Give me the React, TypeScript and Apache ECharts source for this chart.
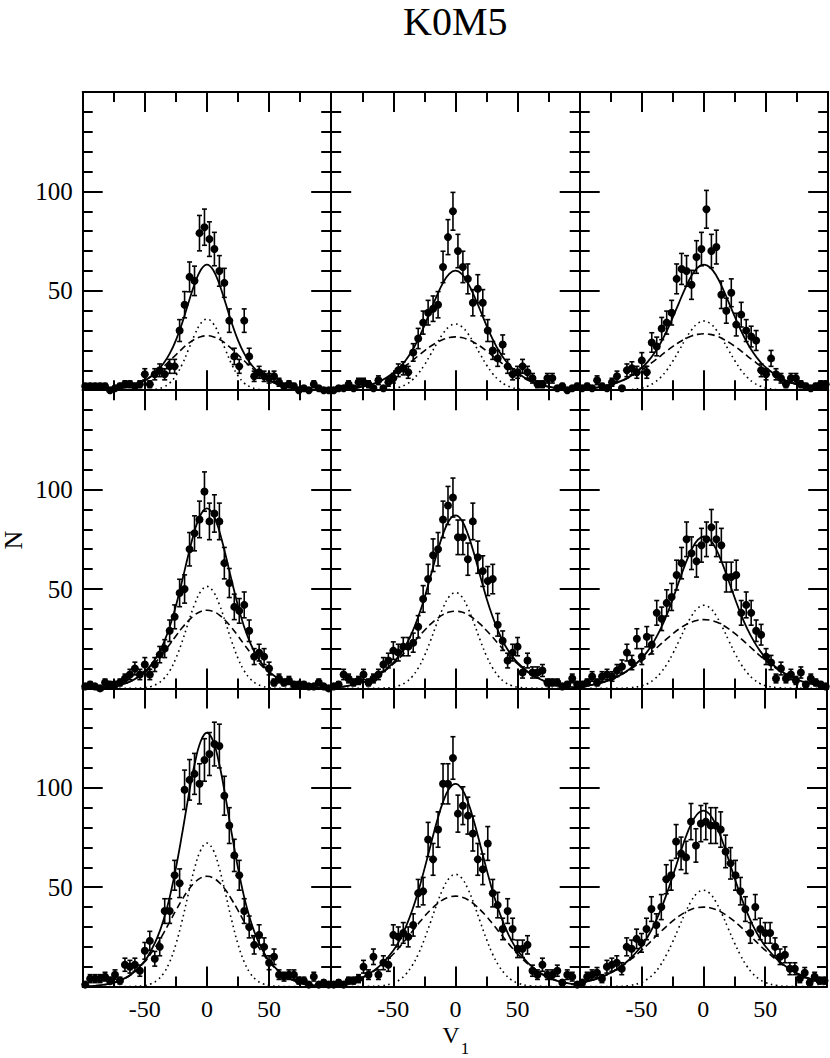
import React, { useEffect, useRef } from "react";
import * as echarts from "echarts";

// ---------- text ----------
const TITLE = "K0M5";
const X_NAME = "V";
const X_NAME_SUB = "1";
const Y_NAME = "N";
const X_TICK_LABELS = [-50, 0, 50];
const Y_TICK_LABELS = [50, 100];

// ---------- bins (x of the histogram points) ----------
const BIN_CENTERS = [
  -98, -94, -90, -86, -82, -78, -74, -70, -66, -62, -58, -54, -50, -46, -42, -38, -34, -30, -26, -22,
  -18, -14, -10, -6, -2, 2, 6, 10, 14, 18, 22, 26, 30, 34, 38, 42, 46, 50, 54, 58,
  62, 66, 70, 74, 78, 82, 86, 90, 94, 98,
];

// ---------- counts per panel (row, col) ----------
const COUNTS_11 = [2,2,2,2,2,0,1,2,3,3,2,3,8,3,8,10,8,12,12,30,43,57,55,79,82,76,71,60,54,35,17,12,35,17,7,9,7,6,7,4,2,3,2,0,1,0,3,1,0,0];
const ERRORS_11 = [1.4,1.4,1.4,1.4,1.4,0,1,1.4,1.7,1.7,1.4,1.7,2.8,1.7,2.8,3.2,2.8,3.5,3.5,5.5,6.6,7.5,7.4,8.9,9.1,8.7,8.4,7.7,7.3,5.9,4.1,3.5,5.9,4.1,2.6,3,2.6,2.4,2.6,2,1.4,1.7,1.4,0,1,0,1.7,1,0,0];
const COUNTS_12 = [0,1,1,3,1,4,4,3,1,5,1,4,6,10,11,9,19,26,34,39,41,43,62,77,90,70,62,56,44,51,44,30,20,16,23,12,8,9,12,9,6,3,3,6,6,1,2,0,1,2];
const ERRORS_12 = [0,1,1,1.7,1,2,2,1.7,1,2.2,1,2,2.4,3.2,3.3,3,4.4,5.1,5.8,6.2,6.4,6.6,7.9,8.8,9.5,8.4,7.9,7.5,6.6,7.1,6.6,5.5,4.5,4,4.8,3.5,2.8,3,3.5,3,2.4,1.7,1.7,2.4,2.4,1,1.4,0,1,1.4];
const COUNTS_13 = [1,2,1,5,2,1,4,7,1,10,11,9,15,9,24,22,31,34,39,56,61,60,53,67,71,91,70,72,48,40,49,33,38,30,27,25,10,8,16,8,6,3,6,6,3,2,1,2,3,3];
const ERRORS_13 = [1,1.4,1,2.2,1.4,1,2,2.6,1,3.2,3.3,3,3.9,3,4.9,4.7,5.6,5.8,6.2,7.5,7.8,7.7,7.3,8.2,8.4,9.5,8.4,8.5,6.9,6.3,7,5.7,6.2,5.5,5.2,5,3.2,2.8,4,2.8,2.4,1.7,2.4,2.4,1.7,1.4,1,1.4,1.7,1.7];
const COUNTS_21 = [1,2,1,0,3,2,2,3,5,7,10,7,12,7,12,17,20,29,36,48,50,70,78,85,99,84,88,84,63,53,41,39,42,29,16,18,16,10,3,5,3,4,2,2,2,1,1,3,1,0];
const ERRORS_21 = [1,1.4,1,0,1.7,1.4,1.4,1.7,2.2,2.6,3.2,2.6,3.5,2.6,3.5,4.1,4.5,5.4,6,6.9,7.1,8.4,8.8,9.2,9.9,9.2,9.4,9.2,7.9,7.3,6.4,6.2,6.5,5.4,4,4.2,4,3.2,1.7,2.2,1.7,2,1.4,1.4,1.4,1,1,1.7,1,0];
const COUNTS_22 = [1,2,7,5,3,4,7,3,5,7,12,14,19,18,21,21,23,31,45,55,67,70,85,92,96,76,76,65,84,66,59,54,55,32,24,14,18,21,8,14,8,8,9,3,3,3,1,2,5,2];
const ERRORS_22 = [1,1.4,2.6,2.2,1.7,2,2.6,1.7,2.2,2.6,3.5,3.7,4.4,4.2,4.6,4.6,4.8,5.6,6.7,7.4,8.2,8.4,9.2,9.6,9.8,8.7,8.7,8.1,9.2,8.1,7.7,7.3,7.4,5.7,4.9,3.7,4.2,4.6,2.8,3.7,2.8,2.8,3,1.7,1.7,1.7,1,1.4,2.2,1.4];
const COUNTS_23 = [2,3,6,3,6,7,6,9,11,18,13,25,16,26,22,38,35,43,46,57,63,75,68,64,72,75,81,75,72,56,56,57,38,42,38,29,27,16,13,5,10,5,7,4,8,2,5,3,2,1];
const ERRORS_23 = [1.4,1.7,2.4,1.7,2.4,2.6,2.4,3,3.3,4.2,3.6,5,4,5.1,4.7,6.2,5.9,6.6,6.8,7.5,7.9,8.7,8.2,8,8.5,8.7,9,8.7,8.5,7.5,7.5,7.5,6.2,6.5,6.2,5.4,5.2,4,3.6,2.2,3.2,2.2,2.6,2,2.8,1.4,2.2,1.7,1.4,1];
const COUNTS_31 = [1,4,4,4,5,3,6,3,11,10,11,8,18,23,14,20,38,38,56,52,99,104,107,102,114,117,122,121,96,81,66,56,38,30,21,26,20,12,15,6,5,6,6,3,3,1,5,1,2,1];
const ERRORS_31 = [1,2,2,2,2.2,1.7,2.4,1.7,3.3,3.2,3.3,2.8,4.2,4.8,3.7,4.5,6.2,6.2,7.5,7.2,9.9,10.2,10.3,10.1,10.7,10.8,11,11,9.8,9,8.1,7.5,6.2,5.5,4.6,5.1,4.5,3.5,3.9,2.4,2.2,2.4,2.4,1.7,1.7,1,2.2,1,1.4,1];
const COUNTS_32 = [1,2,1,3,3,4,10,6,15,6,12,11,26,25,27,25,31,47,48,74,64,79,102,102,115,87,91,86,77,64,59,72,47,41,29,38,29,19,19,21,8,6,11,6,6,8,2,6,5,1];
const ERRORS_32 = [1,1.4,1,1.7,1.7,2,3.2,2.4,3.9,2.4,3.5,3.3,5.1,5,5.2,5,5.6,6.9,6.9,8.6,8,8.9,10.1,10.1,10.7,9.3,9.5,9.3,8.8,8,7.7,8.5,6.9,6.4,5.4,6.2,5.4,4.4,4.4,4.6,2.8,2.4,3.3,2.4,2.4,2.8,1.4,2.4,2.2,1];
const COUNTS_33 = [2,5,6,7,4,10,11,12,9,20,19,24,22,29,39,31,40,54,56,73,67,65,83,71,82,83,81,81,79,68,62,56,48,39,27,40,29,27,27,20,15,16,9,9,4,7,2,5,3,3];
const ERRORS_33 = [1.4,2.2,2.4,2.6,2,3.2,3.3,3.5,3,4.5,4.4,4.9,4.7,5.4,6.2,5.6,6.3,7.3,7.5,8.5,8.2,8.1,9.1,8.4,9.1,9.1,9,9,8.9,8.2,7.9,7.5,6.9,6.2,5.2,6.3,5.4,5.2,5.2,4.5,3.9,4,3,3,2,2.6,1.4,2.2,1.7,1.7];

// ---------- fitted curves, read at these x ----------
const CURVE_X = [-100,-90,-80,-70,-60,-50,-45,-40,-35,-30,-25,-20,-15,-10,-5,0,5,10,15,20,25,30,35,40,45,50,60,70,80,90,100];

const TOTAL_11  = [0,0.1,0.3,1,2.3,5,7,9.8,13.4,18.4,25.1,33.7,43.7,53.3,60.5,63.2,60.5,53.3,43.7,33.7,25.1,18.4,13.4,9.8,7,5,2.3,1,0.3,0.1,0];
const NARROW_11 = [0,0,0,0,0,0.1,0.2,0.6,1.6,3.6,7.3,12.9,20.2,27.7,33.6,35.8,33.6,27.7,20.2,12.9,7.3,3.6,1.6,0.6,0.2,0.1,0,0,0,0,0];
const BROAD_11  = [0,0.1,0.3,1,2.3,4.9,6.8,9.2,11.8,14.8,17.8,20.8,23.5,25.6,26.9,27.4,26.9,25.6,23.5,20.8,17.8,14.8,11.8,9.2,6.8,4.9,2.3,1,0.3,0.1,0];

const TOTAL_12  = [0.2,0.5,1.2,2.4,4.7,8.6,11.5,15.1,19.7,25.6,32.5,40.1,47.5,54,58.5,60.1,58.5,54,47.5,40.1,32.5,25.6,19.7,15.1,11.5,8.6,4.7,2.4,1.2,0.5,0.2];
const NARROW_12 = [0,0,0,0,0.1,0.7,1.5,2.8,5,8.3,12.7,18,23.5,28.5,32,33.3,32,28.5,23.5,18,12.7,8.3,5,2.8,1.5,0.7,0.1,0,0,0,0];
const BROAD_12  = [0.2,0.5,1.2,2.4,4.6,7.9,10,12.3,14.7,17.3,19.8,22.1,24,25.5,26.5,26.8,26.5,25.5,24,22.1,19.8,17.3,14.7,12.3,10,7.9,4.6,2.4,1.2,0.5,0.2];

const TOTAL_13  = [0.5,1,2.1,3.8,6.7,11.3,14.5,18.6,23.6,29.7,36.7,44.1,51.4,57.6,61.7,63.2,61.7,57.6,51.4,44.1,36.7,29.7,23.6,18.6,14.5,11.3,6.7,3.8,2.1,1,0.5];
const NARROW_13 = [0,0,0,0,0.2,1.1,2.1,3.8,6.4,10,14.7,20,25.5,30.3,33.6,34.8,33.6,30.3,25.5,20,14.7,10,6.4,3.8,2.1,1.1,0.2,0,0,0,0];
const BROAD_13  = [0.5,1,2.1,3.8,6.5,10.2,12.4,14.8,17.2,19.7,22,24.1,25.9,27.3,28.1,28.4,28.1,27.3,25.9,24.1,22,19.7,17.2,14.8,12.4,10.2,6.5,3.8,2.1,1,0.5];

const TOTAL_21  = [0.1,0.2,0.7,1.7,4,8.4,11.8,16.4,22.7,30.9,41.5,54,67.1,79.1,87.5,90.6,87.5,79.1,67.1,54,41.5,30.9,22.7,16.4,11.8,8.4,4,1.7,0.7,0.2,0.1];
const NARROW_21 = [0,0,0,0,0,0.4,1,2.3,4.7,8.8,15.1,23.5,33.1,42.2,48.8,51.3,48.8,42.2,33.1,23.5,15.1,8.8,4.7,2.3,1,0.4,0,0,0,0,0];
const BROAD_21  = [0.1,0.2,0.7,1.7,4,8,10.8,14.1,18,22.1,26.4,30.5,34,36.9,38.7,39.3,38.7,36.9,34,30.5,26.4,22.1,18,14.1,10.8,8,4,1.7,0.7,0.2,0.1];

const TOTAL_22  = [0.4,0.9,2.1,4.1,7.5,12.9,16.8,21.6,27.9,35.9,45.4,56.4,67.7,77.6,84.6,87,84.6,77.6,67.7,56.4,45.4,35.9,27.9,21.6,16.8,12.9,7.5,4.1,2.1,0.9,0.4];
const NARROW_22 = [0,0,0,0,0.1,0.6,1.5,3,5.8,10.2,16.3,24.1,32.7,40.5,46.2,48.2,46.2,40.5,32.7,24.1,16.3,10.2,5.8,3,1.5,0.6,0.1,0,0,0,0];
const BROAD_22  = [0.4,0.9,2.1,4.1,7.4,12.3,15.3,18.6,22.1,25.7,29.1,32.3,35,37.1,38.4,38.8,38.4,37.1,35,32.3,29.1,25.7,22.1,18.6,15.3,12.3,7.4,4.1,2.1,0.9,0.4];

const TOTAL_23  = [0.9,1.8,3.3,5.8,9.6,15.2,19,23.9,29.8,36.9,45.1,53.9,62.5,69.8,74.7,76.4,74.7,69.8,62.5,53.9,45.1,36.9,29.8,23.9,19,15.2,9.6,5.8,3.3,1.8,0.9];
const NARROW_23 = [0,0,0,0,0.3,1.3,2.5,4.6,7.7,12,17.6,24,30.6,36.4,40.4,41.8,40.4,36.4,30.6,24,17.6,12,7.7,4.6,2.5,1.3,0.3,0,0,0,0];
const BROAD_23  = [0.9,1.8,3.3,5.8,9.3,13.9,16.5,19.3,22.1,24.9,27.5,29.9,31.9,33.4,34.3,34.6,34.3,33.4,31.9,29.9,27.5,24.9,22.1,19.3,16.5,13.9,9.3,5.8,3.3,1.8,0.9];

const TOTAL_31  = [0.1,0.4,1.2,3,6.6,13,18.1,24.6,33.4,44.9,59.6,76.8,95.2,111.7,123.4,127.7,123.4,111.7,95.2,76.8,59.6,44.9,33.4,24.6,18.1,13,6.6,3,1.2,0.4,0.1];
const NARROW_31 = [0,0,0,0,0.1,0.5,1.4,3.2,6.6,12.4,21.3,33.1,46.6,59.4,68.7,72.2,68.7,59.4,46.6,33.1,21.3,12.4,6.6,3.2,1.4,0.5,0.1,0,0,0,0];
const BROAD_31  = [0.1,0.4,1.2,3,6.5,12.5,16.7,21.4,26.8,32.5,38.3,43.7,48.6,52.3,54.7,55.5,54.7,52.3,48.6,43.7,38.3,32.5,26.8,21.4,16.7,12.5,6.5,3,1.2,0.4,0.1];

const TOTAL_32  = [0.8,1.7,3.3,6.2,10.9,18.2,23.3,29.9,38,47.7,59.1,71.1,82.9,92.9,99.6,102,99.6,92.9,82.9,71.1,59.1,47.7,38,29.9,23.3,18.2,10.9,6.2,3.3,1.7,0.8];
const NARROW_32 = [0,0,0,0.1,0.4,1.8,3.4,6.2,10.4,16.2,23.8,32.5,41.4,49.2,54.6,56.5,54.6,49.2,41.4,32.5,23.8,16.2,10.4,6.2,3.4,1.8,0.4,0.1,0,0,0];
const BROAD_32  = [0.8,1.7,3.3,6.1,10.5,16.4,19.9,23.7,27.6,31.5,35.3,38.6,41.5,43.7,45,45.5,45,43.7,41.5,38.6,35.3,31.5,27.6,23.7,19.9,16.4,10.5,6.1,3.3,1.7,0.8];

const TOTAL_33  = [1.8,3.2,5.4,8.7,13.5,20.4,25.1,30.8,37.8,46,55.1,64.7,73.9,81.6,86.7,88.5,86.7,81.6,73.9,64.7,55.1,46,37.8,30.8,25.1,20.4,13.5,8.7,5.4,3.2,1.8];
const NARROW_33 = [0,0,0,0.1,0.5,2.1,3.9,6.5,10.5,15.8,22.2,29.4,36.6,42.8,47,48.5,47,42.8,36.6,29.4,22.2,15.8,10.5,6.5,3.9,2.1,0.5,0.1,0,0,0];
const BROAD_33  = [1.8,3.2,5.4,8.6,13,18.3,21.2,24.3,27.3,30.2,32.9,35.3,37.3,38.8,39.7,40,39.7,38.8,37.3,35.3,32.9,30.2,27.3,24.3,21.2,18.3,13,8.6,5.4,3.2,1.8];

const PANELS = [
  { counts: COUNTS_11, errors: ERRORS_11, total: TOTAL_11, narrow: NARROW_11, broad: BROAD_11 },
  { counts: COUNTS_12, errors: ERRORS_12, total: TOTAL_12, narrow: NARROW_12, broad: BROAD_12 },
  { counts: COUNTS_13, errors: ERRORS_13, total: TOTAL_13, narrow: NARROW_13, broad: BROAD_13 },
  { counts: COUNTS_21, errors: ERRORS_21, total: TOTAL_21, narrow: NARROW_21, broad: BROAD_21 },
  { counts: COUNTS_22, errors: ERRORS_22, total: TOTAL_22, narrow: NARROW_22, broad: BROAD_22 },
  { counts: COUNTS_23, errors: ERRORS_23, total: TOTAL_23, narrow: NARROW_23, broad: BROAD_23 },
  { counts: COUNTS_31, errors: ERRORS_31, total: TOTAL_31, narrow: NARROW_31, broad: BROAD_31 },
  { counts: COUNTS_32, errors: ERRORS_32, total: TOTAL_32, narrow: NARROW_32, broad: BROAD_32 },
  { counts: COUNTS_33, errors: ERRORS_33, total: TOTAL_33, narrow: NARROW_33, broad: BROAD_33 },
];

// ---------- layout / style ----------
const FONT = "Liberation Serif";
const LEFT0 = 82.7;
const TOP0 = 92;
const PW = 248.5;
const PH = 298.2;
const INK = "#000";

function buildOption() {
  const grid: any[] = [];
  const xAxis: any[] = [];
  const yAxis: any[] = [];
  const series: any[] = [];

  const tickStyle = { color: INK, width: 2 };

  PANELS.forEach((p, i) => {
    const r = Math.floor(i / 3);
    const c = i % 3;
    grid.push({ left: LEFT0 + c * PW, top: TOP0 + r * PH, width: PW, height: PH, containLabel: false });

    const xBase = {
      gridIndex: i,
      type: "value",
      min: -100,
      max: 100,
      interval: 50,
      axisLine: { show: true, onZero: false, lineStyle: { color: INK, width: 2 } },
      axisTick: { show: true, inside: true, length: 20, lineStyle: tickStyle },
      minorTick: { show: true, splitNumber: 2, length: 10, lineStyle: tickStyle },
      splitLine: { show: false },
      minorSplitLine: { show: false },
    };
    xAxis.push({
      ...xBase,
      position: "bottom",
      axisLabel: {
        show: r === 2,
        margin: 10,
        color: INK,
        fontFamily: FONT,
        fontSize: 24,
        formatter: (v: number) => (X_TICK_LABELS.indexOf(v) >= 0 ? String(v) : ""),
      },
    });
    xAxis.push({ ...xBase, position: "top", axisLabel: { show: false } });

    const yBase = {
      gridIndex: i,
      type: "value",
      min: 0,
      max: 150,
      interval: 50,
      axisLine: { show: true, onZero: false, lineStyle: { color: INK, width: 2 } },
      axisTick: { show: true, inside: true, length: 20, lineStyle: tickStyle },
      minorTick: { show: true, splitNumber: 5, length: 10, lineStyle: tickStyle },
      splitLine: { show: false },
      minorSplitLine: { show: false },
    };
    yAxis.push({
      ...yBase,
      position: "left",
      axisLabel: {
        show: c === 0,
        margin: 10,
        color: INK,
        fontFamily: FONT,
        fontSize: 25,
        formatter: (v: number) => (Y_TICK_LABELS.indexOf(v) >= 0 ? String(v) : ""),
      },
    });
    yAxis.push({ ...yBase, position: "right", axisLabel: { show: false } });

    const xi = 2 * i;
    const yi = 2 * i;

    series.push({
      type: "line",
      xAxisIndex: xi,
      yAxisIndex: yi,
      data: CURVE_X.map((x, j) => [x, p.broad[j]]),
      showSymbol: false,
      smooth: 0.4,
      silent: true,
      lineStyle: { color: INK, width: 1.6, type: [7, 4] },
      z: 2,
    });
    series.push({
      type: "line",
      xAxisIndex: xi,
      yAxisIndex: yi,
      data: CURVE_X.map((x, j) => [x, p.narrow[j]]),
      showSymbol: false,
      smooth: 0.4,
      silent: true,
      lineStyle: { color: INK, width: 1.6, type: [1.6, 3.6] },
      z: 2,
    });
    series.push({
      type: "line",
      xAxisIndex: xi,
      yAxisIndex: yi,
      data: CURVE_X.map((x, j) => [x, p.total[j]]),
      showSymbol: false,
      smooth: 0.4,
      silent: true,
      lineStyle: { color: INK, width: 1.8, type: "solid" },
      z: 3,
    });
    series.push({
      type: "custom",
      xAxisIndex: xi,
      yAxisIndex: yi,
      silent: true,
      z: 4,
      encode: { x: 0, y: 1 },
      data: BIN_CENTERS.map((x, k) => [x, p.counts[k], p.errors[k]]),
      renderItem: (params: any, api: any) => {
        const x = api.value(0);
        const y = api.value(1);
        const e = api.value(2);
        if (!e) return { type: "group", children: [] };
        const top = api.coord([x, y + e]);
        const bot = api.coord([x, y - e]);
        const cap = 2.5;
        const style = { stroke: INK, lineWidth: 1.6 };
        return {
          type: "group",
          children: [
            { type: "line", shape: { x1: top[0], y1: top[1], x2: bot[0], y2: bot[1] }, style },
            { type: "line", shape: { x1: top[0] - cap, y1: top[1], x2: top[0] + cap, y2: top[1] }, style },
            { type: "line", shape: { x1: bot[0] - cap, y1: bot[1], x2: bot[0] + cap, y2: bot[1] }, style },
          ],
        };
      },
    });
    series.push({
      type: "scatter",
      xAxisIndex: xi,
      yAxisIndex: yi,
      data: BIN_CENTERS.map((x, k) => [x, p.counts[k]]),
      symbol: "circle",
      symbolSize: 8,
      silent: true,
      itemStyle: { color: INK, opacity: 1 },
      z: 5,
    });
  });

  const graphic = [
    {
      type: "text",
      x: 455.3,
      y: 1,
      style: {
        text: TITLE,
        fontSize: 40,
        fontFamily: FONT,
        fill: INK,
        align: "center",
        verticalAlign: "top",
      },
    },
    {
      type: "text",
      x: 13,
      y: 540,
      rotation: Math.PI / 2,
      style: {
        text: Y_NAME,
        fontSize: 26,
        fontFamily: FONT,
        fill: INK,
        align: "center",
        verticalAlign: "middle",
      },
    },
    {
      type: "text",
      x: 451,
      y: 1035,
      style: {
        text: X_NAME,
        fontSize: 24,
        fontFamily: FONT,
        fill: INK,
        align: "center",
        verticalAlign: "middle",
      },
    },
    {
      type: "text",
      x: 465,
      y: 1048,
      style: {
        text: X_NAME_SUB,
        fontSize: 17,
        fontFamily: FONT,
        fill: INK,
        align: "center",
        verticalAlign: "middle",
      },
    },
  ];

  return {
    animation: false,
    backgroundColor: "#fff",
    textStyle: { fontFamily: FONT },
    grid,
    xAxis,
    yAxis,
    series,
    graphic,
  };
}

export default function App() {
  const ref = useRef<HTMLDivElement | null>(null);
  useEffect(() => {
    if (!ref.current) return;
    const chart = echarts.init(ref.current, null, { renderer: "svg" });
    chart.setOption(buildOption() as any);
    return () => {
      chart.dispose();
    };
  }, []);
  return (
    <div
      ref={ref}
      style={{ position: "absolute", left: 0, top: 0, width: 830, height: 1058, background: "#fff" }}
    />
  );
}
